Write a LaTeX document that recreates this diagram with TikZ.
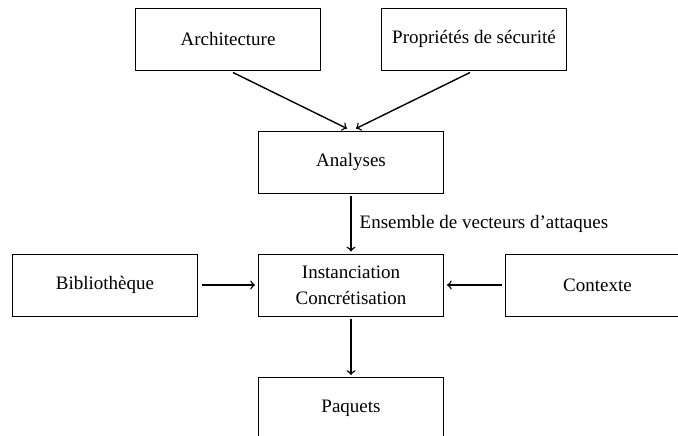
\documentclass[tikz,border=0pt]{standalone}
\usepackage{fontspec}
\setmainfont{Liberation Serif}
\begin{document}
\begin{tikzpicture}[x=0.5pt,y=-0.5pt,
  box/.style={draw, line width=0.5pt, minimum width=92.5pt, minimum height=31pt, inner sep=0pt, align=center,
    font=\fontsize{9.5}{13}\selectfont},
  arr/.style={->, line width=0.7pt}]
\clip (0,0) rectangle (678,435);
\node[box] (arch) at (228,39) {Architecture};
\node[box] (prop) at (474,39) {Propriétés de sécurité};
\node[box] (ana) at (351,162) {Analyses};
\node[box] (bib) at (105,285) {Bibliothèque};
\node[box] (inst) at (351,285) {Instanciation\\Concrétisation};
\node[box] (ctx) at (597.5,285) {Contexte};
\node[box] (paq) at (351,408.5) {Paquets};
\draw[arr] ([xshift=2.5pt,yshift=-1pt]arch.south) -- ([xshift=-2pt,yshift=1pt]ana.north);
\draw[arr] ([xshift=-2pt,yshift=-1pt]prop.south) -- ([xshift=2.5pt,yshift=1pt]ana.north);
\draw[arr] ([yshift=-1pt]ana.south) -- node[right, inner sep=0pt, xshift=4pt, font=\fontsize{9.5}{13}\selectfont] {Ensemble de vecteurs d’attaques} ([yshift=1pt]inst.north);
\draw[arr] ([xshift=2pt]bib.east) -- ([xshift=-1.5pt]inst.west);
\draw[arr] ([xshift=-1.5pt]ctx.west) -- ([xshift=1.5pt]inst.east);
\draw[arr] ([yshift=-1pt]inst.south) -- ([yshift=1pt]paq.north);
\end{tikzpicture}
\end{document}
